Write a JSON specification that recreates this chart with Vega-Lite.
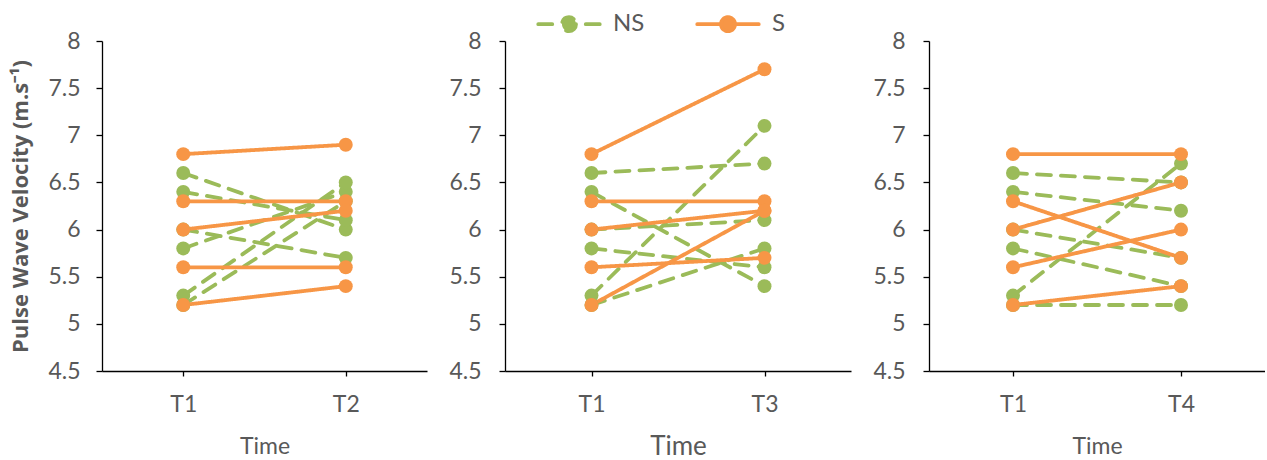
{
  "$schema": "https://vega.github.io/schema/vega-lite/v6.json",
  "background": "white",
  "padding": {"left": 9, "top": 12, "right": 0, "bottom": 0},
  "bounds": "flush",
  "spacing": 78,
  "config": {
    "font": "Lato",
    "view": {"stroke": null},
    "axis": {
      "grid": false,
      "labelFont": "Lato",
      "labelFontSize": 23,
      "labelColor": "#595959",
      "titleFont": "Lato",
      "titleColor": "#595959",
      "titleFontWeight": "normal",
      "domainColor": "#000000",
      "domainWidth": 1.3,
      "tickColor": "#000000",
      "tickWidth": 1.3
    },
    "axisX": {"tickSize": 5, "labelPadding": 17, "titlePadding": 19},
    "axisY": {"tickSize": 6, "labelPadding": 16},
    "legend": {
      "orient": "none",
      "legendX": 455,
      "legendY": -29,
      "direction": "horizontal",
      "symbolType": "M-3.075,0H-0.7M3.075,0H0.7M0.7,0A0.7,0.7,0,1,1,-0.7,0A0.7,0.7,0,1,1,0.7,0Z",
      "symbolSize": 400,
      "symbolStrokeWidth": 3.8,
      "labelFont": "Lato",
      "labelFontSize": 24,
      "labelColor": "#595959",
      "labelOffset": 32,
      "columnPadding": 44
    }
  },
  "data": {
    "values": [
      {"panel": "a", "subject": "n1", "group": "NS", "time": "T1", "pwv": 6.6},
      {"panel": "a", "subject": "n1", "group": "NS", "time": "T2", "pwv": 6.0},
      {"panel": "a", "subject": "n2", "group": "NS", "time": "T1", "pwv": 6.4},
      {"panel": "a", "subject": "n2", "group": "NS", "time": "T2", "pwv": 6.1},
      {"panel": "a", "subject": "n3", "group": "NS", "time": "T1", "pwv": 6.0},
      {"panel": "a", "subject": "n3", "group": "NS", "time": "T2", "pwv": 5.7},
      {"panel": "a", "subject": "n4", "group": "NS", "time": "T1", "pwv": 5.8},
      {"panel": "a", "subject": "n4", "group": "NS", "time": "T2", "pwv": 6.4},
      {"panel": "a", "subject": "n5", "group": "NS", "time": "T1", "pwv": 5.3},
      {"panel": "a", "subject": "n5", "group": "NS", "time": "T2", "pwv": 6.5},
      {"panel": "a", "subject": "n6", "group": "NS", "time": "T1", "pwv": 5.2},
      {"panel": "a", "subject": "n6", "group": "NS", "time": "T2", "pwv": 6.3},
      {"panel": "a", "subject": "s1", "group": "S", "time": "T1", "pwv": 6.8},
      {"panel": "a", "subject": "s1", "group": "S", "time": "T2", "pwv": 6.9},
      {"panel": "a", "subject": "s2", "group": "S", "time": "T1", "pwv": 6.3},
      {"panel": "a", "subject": "s2", "group": "S", "time": "T2", "pwv": 6.3},
      {"panel": "a", "subject": "s3", "group": "S", "time": "T1", "pwv": 6.0},
      {"panel": "a", "subject": "s3", "group": "S", "time": "T2", "pwv": 6.2},
      {"panel": "a", "subject": "s4", "group": "S", "time": "T1", "pwv": 5.6},
      {"panel": "a", "subject": "s4", "group": "S", "time": "T2", "pwv": 5.6},
      {"panel": "a", "subject": "s5", "group": "S", "time": "T1", "pwv": 5.2},
      {"panel": "a", "subject": "s5", "group": "S", "time": "T2", "pwv": 5.4},

      {"panel": "b", "subject": "n1", "group": "NS", "time": "T1", "pwv": 6.6},
      {"panel": "b", "subject": "n1", "group": "NS", "time": "T3", "pwv": 6.7},
      {"panel": "b", "subject": "n2", "group": "NS", "time": "T1", "pwv": 6.4},
      {"panel": "b", "subject": "n2", "group": "NS", "time": "T3", "pwv": 5.4},
      {"panel": "b", "subject": "n3", "group": "NS", "time": "T1", "pwv": 6.0},
      {"panel": "b", "subject": "n3", "group": "NS", "time": "T3", "pwv": 6.1},
      {"panel": "b", "subject": "n4", "group": "NS", "time": "T1", "pwv": 5.8},
      {"panel": "b", "subject": "n4", "group": "NS", "time": "T3", "pwv": 5.6},
      {"panel": "b", "subject": "n5", "group": "NS", "time": "T1", "pwv": 5.3},
      {"panel": "b", "subject": "n5", "group": "NS", "time": "T3", "pwv": 7.1},
      {"panel": "b", "subject": "n6", "group": "NS", "time": "T1", "pwv": 5.2},
      {"panel": "b", "subject": "n6", "group": "NS", "time": "T3", "pwv": 5.8},
      {"panel": "b", "subject": "s1", "group": "S", "time": "T1", "pwv": 6.8},
      {"panel": "b", "subject": "s1", "group": "S", "time": "T3", "pwv": 7.7},
      {"panel": "b", "subject": "s2", "group": "S", "time": "T1", "pwv": 6.3},
      {"panel": "b", "subject": "s2", "group": "S", "time": "T3", "pwv": 6.3},
      {"panel": "b", "subject": "s3", "group": "S", "time": "T1", "pwv": 6.0},
      {"panel": "b", "subject": "s3", "group": "S", "time": "T3", "pwv": 6.2},
      {"panel": "b", "subject": "s4", "group": "S", "time": "T1", "pwv": 5.6},
      {"panel": "b", "subject": "s4", "group": "S", "time": "T3", "pwv": 5.7},
      {"panel": "b", "subject": "s5", "group": "S", "time": "T1", "pwv": 5.2},
      {"panel": "b", "subject": "s5", "group": "S", "time": "T3", "pwv": 6.2},

      {"panel": "c", "subject": "n1", "group": "NS", "time": "T1", "pwv": 6.6},
      {"panel": "c", "subject": "n1", "group": "NS", "time": "T4", "pwv": 6.5},
      {"panel": "c", "subject": "n2", "group": "NS", "time": "T1", "pwv": 6.4},
      {"panel": "c", "subject": "n2", "group": "NS", "time": "T4", "pwv": 6.2},
      {"panel": "c", "subject": "n3", "group": "NS", "time": "T1", "pwv": 6.0},
      {"panel": "c", "subject": "n3", "group": "NS", "time": "T4", "pwv": 5.7},
      {"panel": "c", "subject": "n4", "group": "NS", "time": "T1", "pwv": 5.8},
      {"panel": "c", "subject": "n4", "group": "NS", "time": "T4", "pwv": 5.4},
      {"panel": "c", "subject": "n5", "group": "NS", "time": "T1", "pwv": 5.3},
      {"panel": "c", "subject": "n5", "group": "NS", "time": "T4", "pwv": 6.7},
      {"panel": "c", "subject": "n6", "group": "NS", "time": "T1", "pwv": 5.2},
      {"panel": "c", "subject": "n6", "group": "NS", "time": "T4", "pwv": 5.2},
      {"panel": "c", "subject": "s1", "group": "S", "time": "T1", "pwv": 6.8},
      {"panel": "c", "subject": "s1", "group": "S", "time": "T4", "pwv": 6.8},
      {"panel": "c", "subject": "s2", "group": "S", "time": "T1", "pwv": 6.3},
      {"panel": "c", "subject": "s2", "group": "S", "time": "T4", "pwv": 5.7},
      {"panel": "c", "subject": "s3", "group": "S", "time": "T1", "pwv": 6.0},
      {"panel": "c", "subject": "s3", "group": "S", "time": "T4", "pwv": 6.5},
      {"panel": "c", "subject": "s4", "group": "S", "time": "T1", "pwv": 5.6},
      {"panel": "c", "subject": "s4", "group": "S", "time": "T4", "pwv": 6.0},
      {"panel": "c", "subject": "s5", "group": "S", "time": "T1", "pwv": 5.2},
      {"panel": "c", "subject": "s5", "group": "S", "time": "T4", "pwv": 5.4}
    ]
  },
  "resolve": {"scale": {"x": "independent", "y": "independent", "color": "shared", "strokeDash": "shared"}},
  "hconcat": [
    {
      "width": 325,
      "height": 330,
      "transform": [{"filter": "datum.panel == 'a'"}],
      "encoding": {
        "x": {"field": "time", "type": "nominal", "sort": null, "scale": {"type": "point", "padding": 0.5},
              "axis": {"title": "Time", "labelAngle": 0, "titleFontSize": 23}},
        "y": {"field": "pwv", "type": "quantitative", "scale": {"domain": [4.5, 8], "nice": false, "zero": false},
              "axis": {"title": "Pulse Wave Velocity (m.s⁻¹)", "titleFont": "Open Sans", "titleFontWeight": "bold", "titleFontSize": 22,
                       "values": [4.5, 5, 5.5, 6, 6.5, 7, 7.5, 8], "format": "~g", "titlePadding": 15}}
      },
      "layer": [
        {
          "mark": {"type": "line", "strokeWidth": 3.8, "strokeCap": "round"},
          "encoding": {
            "detail": {"field": "subject"},
            "color": {"field": "group", "type": "nominal", "scale": {"domain": ["NS", "S"], "range": ["#9BBB59", "#F79646"]},
                      "legend": {"title": null, "encode": {"symbols": {"update": {"fill": {"signal": "scale('color', datum.value)"}, "strokeCap": {"value": "round"}}}}}},
            "strokeDash": {"field": "group", "type": "nominal", "scale": {"domain": ["NS", "S"], "range": [[14, 10], [1, 0]]},
                           "legend": {"title": null, "encode": {"symbols": {"update": {"fill": {"signal": "scale('color', datum.value)"}, "strokeCap": {"value": "round"}}}}}}
          }
        },
        {
          "mark": {"type": "circle", "size": 195, "opacity": 1},
          "encoding": {
            "color": {"field": "group", "type": "nominal", "legend": null}
          }
        }
      ]
    },
    {
      "width": 346,
      "height": 330,
      "transform": [{"filter": "datum.panel == 'b'"}],
      "encoding": {
        "x": {"field": "time", "type": "nominal", "sort": null, "scale": {"type": "point", "padding": 0.5},
              "axis": {"title": "Time", "labelAngle": 0, "titleFontSize": 26, "titlePadding": 17}},
        "y": {"field": "pwv", "type": "quantitative", "scale": {"domain": [4.5, 8], "nice": false, "zero": false},
              "axis": {"title": null, "values": [4.5, 5, 5.5, 6, 6.5, 7, 7.5, 8], "format": "~g", "labelPadding": 18}}
      },
      "layer": [
        {
          "mark": {"type": "line", "strokeWidth": 3.8, "strokeCap": "round"},
          "encoding": {
            "detail": {"field": "subject"},
            "color": {"field": "group", "type": "nominal",
                      "legend": {"title": null, "encode": {"symbols": {"update": {"fill": {"signal": "scale('color', datum.value)"}, "strokeCap": {"value": "round"}}}}}},
            "strokeDash": {"field": "group", "type": "nominal",
                           "legend": {"title": null, "encode": {"symbols": {"update": {"fill": {"signal": "scale('color', datum.value)"}, "strokeCap": {"value": "round"}}}}}}
          }
        },
        {
          "mark": {"type": "circle", "size": 195, "opacity": 1},
          "encoding": {
            "color": {"field": "group", "type": "nominal", "legend": null}
          }
        }
      ]
    },
    {
      "width": 336,
      "height": 330,
      "transform": [{"filter": "datum.panel == 'c'"}],
      "encoding": {
        "x": {"field": "time", "type": "nominal", "sort": null, "scale": {"type": "point", "padding": 0.5},
              "axis": {"title": "Time", "labelAngle": 0, "titleFontSize": 23}},
        "y": {"field": "pwv", "type": "quantitative", "scale": {"domain": [4.5, 8], "nice": false, "zero": false},
              "axis": {"title": null, "values": [4.5, 5, 5.5, 6, 6.5, 7, 7.5, 8], "format": "~g", "labelPadding": 18}}
      },
      "layer": [
        {
          "mark": {"type": "line", "strokeWidth": 3.8, "strokeCap": "round"},
          "encoding": {
            "detail": {"field": "subject"},
            "color": {"field": "group", "type": "nominal",
                      "legend": {"title": null, "encode": {"symbols": {"update": {"fill": {"signal": "scale('color', datum.value)"}, "strokeCap": {"value": "round"}}}}}},
            "strokeDash": {"field": "group", "type": "nominal",
                           "legend": {"title": null, "encode": {"symbols": {"update": {"fill": {"signal": "scale('color', datum.value)"}, "strokeCap": {"value": "round"}}}}}}
          }
        },
        {
          "mark": {"type": "circle", "size": 195, "opacity": 1},
          "encoding": {
            "color": {"field": "group", "type": "nominal", "legend": null}
          }
        }
      ]
    }
  ]
}
